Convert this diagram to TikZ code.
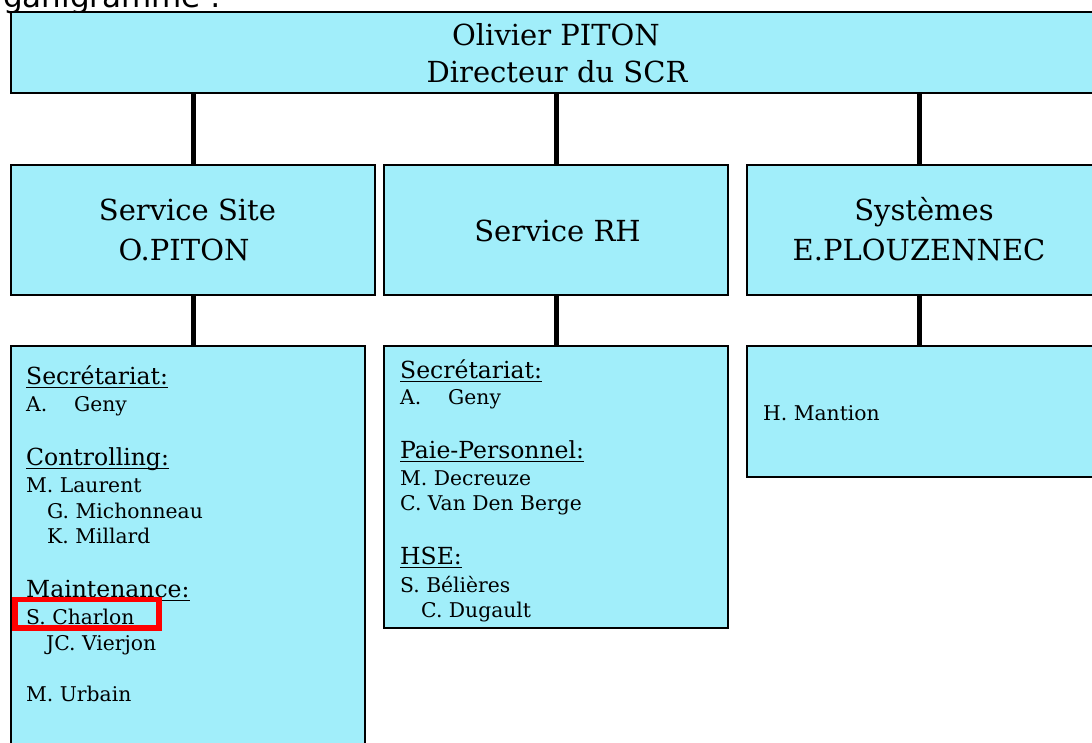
\documentclass[tikz,border=0pt]{standalone}
\usepackage{fontspec}
\setmainfont{DejaVu Serif}
\newfontfamily\sansf{DejaVu Sans}
\definecolor{boxfill}{RGB}{161,238,250}
\begin{document}
\begin{tikzpicture}[x=1pt,y=-1pt,
  box/.style={draw=black, line width=1.5pt, fill=boxfill, rectangle, inner sep=0pt, outer sep=0pt},
  conn/.style={draw=black, line width=5pt},
  big/.style={font=\fontsize{29}{34}\selectfont, inner sep=0pt, anchor=base},
  head/.style={font=\fontsize{23.5}{28}\selectfont, inner sep=0pt, anchor=base west},
  pers/.style={font=\fontsize{20.3}{24}\selectfont, inner sep=0pt, anchor=base west},
  ul/.style={draw=black, line width=1.4pt},
  mark box/.style={draw=red, line width=5.5pt}]
\useasboundingbox (0,0) rectangle (1092,743);
\clip (0,0) rectangle (1092,743);

% title, clipped at the top
\node[font=\sansf\fontsize{31}{36}\selectfont, inner sep=0pt, anchor=base west] (ttl) at (3,8) {ganigramme :};

% boxes
\node[box, minimum width=1090pt, minimum height=81pt] (top) at (556,52.5) {};
\node[box, minimum width=364pt, minimum height=130pt] (s1) at (193,230) {};
\node[box, minimum width=344pt, minimum height=130pt] (s2) at (556,230) {};
\node[box, minimum width=354pt, minimum height=130pt] (s3) at (924,230) {};
\node[box, minimum width=354pt, minimum height=434pt] (b1) at (188,563) {};
\node[box, minimum width=344pt, minimum height=282pt] (b2) at (556,487) {};
\node[box, minimum width=354pt, minimum height=131pt] (b3) at (924,411.5) {};

% texts of upper boxes
\node[big] (t1) at (556,46) {Olivier PITON};
\node[big] (t2) at (557,83) {Directeur du SCR};
\node[big] (s1a) at (187.5,221) {Service Site};
\node[big] (s1b) at (184,261) {O.PITON};
\node[big] (s2a) at (557.5,242) {Service RH};
\node[big] (s3a) at (924,221) {Systèmes};
\node[big] (s3b) at (919,261) {E.PLOUZENNEC};

% connectors
\draw[conn] (top.south -| s1) -- (s1.north);
\draw[conn] (top.south -| s2) -- (s2.north);
\draw[conn] (top.south -| s3b) -- (s3.north -| s3b);
\draw[conn] (s1.south) -- (s1.south |- b1.north);
\draw[conn] (s2.south) -- (b2.north);
\draw[conn] (s3.south -| s3b) -- (b3.north -| s3b);

% box 1 contents
\node[head] (h11) at (26,384) {Secrétariat:};
\node[pers] (p11) at (26,411) {\makebox[48pt][l]{A.}Geny};
\node[head] (h12) at (26,465) {Controlling:};
\node[pers] (p12) at (26,492) {M. Laurent};
\node[pers] (p13) at (47,518) {G. Michonneau};
\node[pers] (p14) at (47,543) {K. Millard};
\node[head] (h13) at (26,597) {Maintenance:};
\node[pers] (p15) at (26,624) {S. Charlon};
\node[pers] (p16) at (46,650) {JC. Vierjon};
\node[pers] (p17) at (26,701) {M. Urbain};

% box 2 contents
\node[head] (h21) at (400,378) {Secrétariat:};
\node[pers] (p21) at (400,404) {\makebox[48pt][l]{A.}Geny};
\node[head] (h22) at (400,458) {Paie-Personnel:};
\node[pers] (p22) at (400,485) {M. Decreuze};
\node[pers] (p23) at (400,510) {C. Van Den Berge};
\node[head] (h23) at (400,564) {HSE:};
\node[pers] (p24) at (400,592) {S. Bélières};
\node[pers] (p25) at (421,617) {C. Dugault};

% box 3 contents
\node[pers] (p31) at (763,420) {H. Mantion};

% underlines of headings
\foreach \h in {h11,h12,h13,h21,h22,h23}
  \draw[ul] ([yshift=-3.5pt]\h.base west) -- ([yshift=-3.5pt]\h.base east);

% red highlight
\draw[mark box] (15,599.5) rectangle (159,628);
\end{tikzpicture}
\end{document}
